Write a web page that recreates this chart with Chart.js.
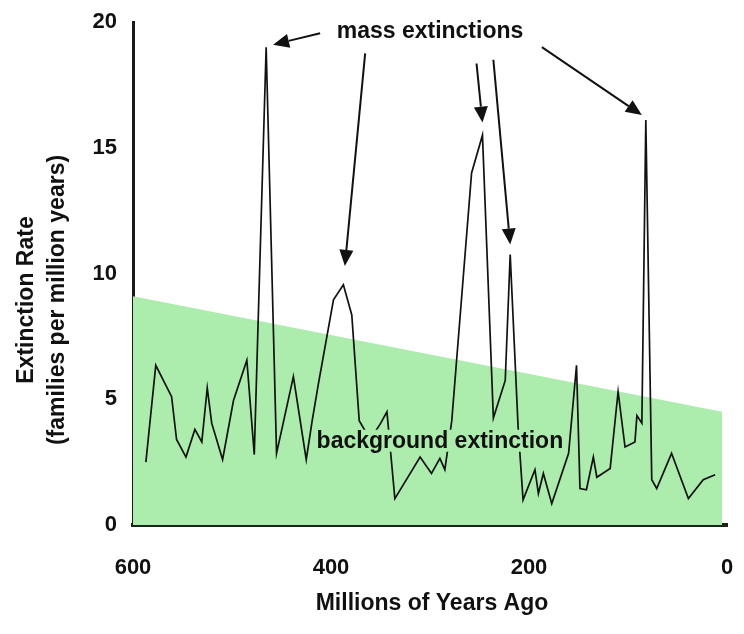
<!DOCTYPE html>
<html>
<head>
<meta charset="utf-8">
<script src="https://cdn.jsdelivr.net/npm/chart.js@4.4.1/dist/chart.umd.min.js"></script>
<style>
  html, body { margin: 0; padding: 0; background: #fff; }
  #wrap { width: 744px; height: 634px; }
</style>
</head>
<body>
<div id="wrap"><canvas id="chart"></canvas></div>
<script>
// millions of years ago
const years = [587, 577, 561, 556, 546.5, 537.5, 530.5, 525, 520.5, 509.5, 498.5, 485, 477.5, 465.5, 455,
  438, 425, 419, 413, 397.5, 387.5, 379, 371.5, 360.5, 350.5, 343.5, 335.5, 310, 298.5, 290, 285, 278,
  258, 247, 236, 224, 219, 211, 206, 194, 190.5, 185.5, 177, 160, 152, 148.5, 142, 135, 131.5, 118,
  110, 103, 93, 91, 86, 82, 76, 71, 56, 39, 24, 12];
// families per million years
const rates = [2.5, 6.35, 5.1, 3.4, 2.7, 3.8, 3.3, 5.45, 4.05, 2.6, 4.95, 6.55, 2.8, 19, 2.85,
  5.9, 2.6, 4.15, 5.55, 8.95, 9.55, 8.35, 4.15, 3.4, 4.0, 4.5, 1.05, 2.7, 2.05, 2.65, 2.2, 4.15,
  14.0, 15.5, 4.25, 5.75, 10.75, 3.9, 1.0, 2.2, 1.25, 2.05, 0.85, 2.85, 6.35, 1.45, 1.4, 2.7, 1.9, 2.25,
  5.3, 3.1, 3.3, 4.35, 4.05, 16.1, 1.8, 1.45, 2.85, 1.05, 1.8, 2.0];
// background extinction band (top edge)
const bandYears = [600, 5];
const bandRates = [9.1, 4.5];

const xTicks = [600, 400, 200, 0];
const yTicks = [0, 5, 10, 15, 20];

// arrows for "mass extinctions": [fromYear, fromRate, toYear, toRate]
const arrows = [
  [411, 19.55, 458.5, 19.1],
  [365.5, 18.75, 386, 10.3],
  [253, 18.35, 247, 16.0],
  [236, 18.5, 219, 11.15],
  [187, 19.0, 86, 16.3]
];

const FONT = '"Liberation Sans", Arial, Helvetica, sans-serif';
const GREEN = 'rgb(172, 236, 172)';

const annotate = {
  id: 'annotate',
  afterDatasetsDraw(chart) {
    const { ctx, scales: { x, y } } = chart;
    ctx.save();
    ctx.fillStyle = '#111';
    ctx.textAlign = 'center';
    ctx.textBaseline = 'middle';

    // background extinction label, sits on top of the line
    ctx.font = 'bold 23px ' + FONT;
    const bx = x.getPixelForValue(290), by = y.getPixelForValue(3.35);
    const bw = ctx.measureText('background extinction').width;
    ctx.fillStyle = GREEN;
    ctx.fillRect(bx - bw / 2 - 2, by - 11, bw + 4, 22);
    ctx.fillStyle = '#111';
    ctx.fillText('background extinction', bx, by + 1);

    ctx.fillText('mass extinctions', x.getPixelForValue(300), y.getPixelForValue(19.6));

    // arrows
    ctx.strokeStyle = '#111';
    ctx.lineWidth = 2;
    arrows.forEach(a => {
      const x1 = x.getPixelForValue(a[0]), y1 = y.getPixelForValue(a[1]);
      const x2 = x.getPixelForValue(a[2]), y2 = y.getPixelForValue(a[3]);
      const ang = Math.atan2(y2 - y1, x2 - x1);
      const len = 16, half = 7;
      const bx2 = x2 - Math.cos(ang) * len, by2 = y2 - Math.sin(ang) * len;
      ctx.beginPath();
      ctx.moveTo(x1, y1);
      ctx.lineTo(bx2, by2);
      ctx.stroke();
      ctx.beginPath();
      ctx.moveTo(x2, y2);
      ctx.lineTo(bx2 + Math.sin(ang) * half, by2 - Math.cos(ang) * half);
      ctx.lineTo(bx2 - Math.sin(ang) * half, by2 + Math.cos(ang) * half);
      ctx.closePath();
      ctx.fill();
    });

    // y axis titles
    ctx.translate(27, 300);
    ctx.rotate(-Math.PI / 2);
    ctx.fillText('Extinction Rate', 0, 0);
    ctx.fillText('(families per million years)', 0, 31);
    ctx.restore();

    ctx.save();
    ctx.fillStyle = '#111';
    ctx.font = 'bold 23px ' + FONT;
    ctx.textAlign = 'center';
    ctx.textBaseline = 'middle';
    ctx.fillText('Millions of Years Ago', 432, 604);
    ctx.restore();
  }
};

new Chart(document.getElementById('chart').getContext('2d'), {
  type: 'line',
  data: {
    datasets: [{
      label: 'background',
      data: bandYears.map((v, i) => ({ x: v, y: bandRates[i] })),
      borderWidth: 0,
      pointRadius: 0,
      fill: 'origin',
      backgroundColor: GREEN,
      order: 2
    }, {
      label: 'extinction rate',
      data: years.map((v, i) => ({ x: v, y: rates[i] })),
      borderColor: '#111',
      borderWidth: 1.7,
      pointRadius: 0,
      tension: 0,
      fill: false,
      order: 1
    }]
  },
  options: {
    responsive: true,
    maintainAspectRatio: false,
    animation: false,
    layout: { padding: { top: 22, right: 17, left: 0, bottom: 0 } },
    plugins: { legend: { display: false }, tooltip: { enabled: false } },
    scales: {
      x: {
        type: 'linear',
        reverse: true,
        min: 0,
        max: 600,
        afterFit: s => { s.height = 109; s.paddingLeft = 0; s.paddingRight = 0; },
        afterBuildTicks: s => { s.ticks = xTicks.map(v => ({ value: v })); },
        grid: { display: false },
        border: { display: true, color: '#1b261b', width: 4 },
        ticks: { color: '#111', font: { family: FONT, size: 22, weight: 'bold' }, padding: 22, maxRotation: 0 }
      },
      y: {
        min: 0,
        max: 20,
        afterFit: s => { s.width = 133; s.paddingTop = 0; s.paddingBottom = 0; },
        afterBuildTicks: s => { s.ticks = yTicks.map(v => ({ value: v })); },
        grid: { display: false },
        border: { display: true, color: '#1a1a1a', width: 3 },
        ticks: { color: '#111', font: { family: FONT, size: 22, weight: 'bold' }, padding: 8 }
      }
    }
  },
  plugins: [annotate]
});
</script>
</body>
</html>
